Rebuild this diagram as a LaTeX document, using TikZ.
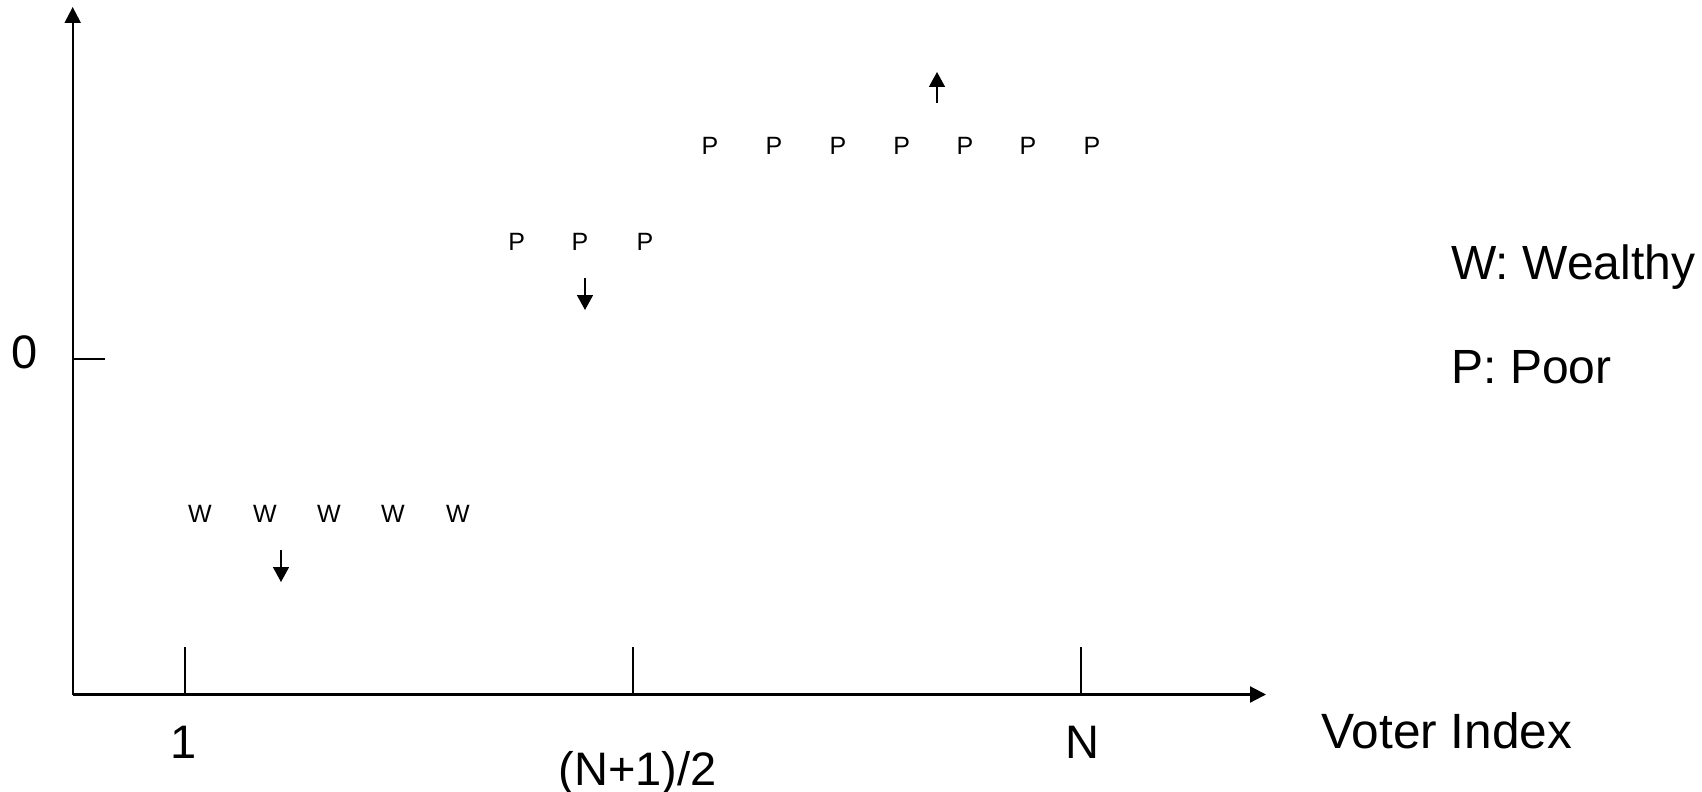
\documentclass[tikz,border=0pt]{standalone}
\usepackage{fontspec}
\setmainfont{Liberation Sans}
\usetikzlibrary{arrows.meta}
\begin{document}
\begin{tikzpicture}[x=0.5pt,y=-0.5pt,
  axis/.style={line width=1.1pt,-{Triangle[length=8pt,width=8pt]}},
  tickline/.style={line width=1pt},
  moveline/.style={line width=0.75pt,-{Triangle[length=7.5pt,width=8pt]}},
  biglabel/.style={font=\fontsize{23.5pt}{28pt}\selectfont,inner sep=0pt},
  legendtext/.style={font=\fontsize{24pt}{28pt}\selectfont,inner sep=0pt,anchor=base west},
  voter/.style={font=\fontsize{12.5pt}{15pt}\selectfont,inner sep=0pt,anchor=base}]
\useasboundingbox (0,0) rectangle (1702,792);

% axes
\coordinate (O) at (72.7,694.5);
\coordinate (ytop) at (72.7,7);
\coordinate (xend) at (1266,694.5);
\draw[axis] (O) -- (ytop);
\draw[axis] (O) -- (xend);

% ticks
\coordinate (t1) at (184.5,694.5);   \coordinate (t1a) at (184.5,647);
\coordinate (tm) at (633,694.5);     \coordinate (tma) at (633,647);
\coordinate (tN) at (1081,694.5);    \coordinate (tNa) at (1081,647);
\coordinate (z0) at (72.7,359);      \coordinate (z0a) at (105,359);
\draw[tickline] (t1) -- (t1a);
\draw[tickline] (tm) -- (tma);
\draw[tickline] (tN) -- (tNa);
\draw[tickline] (z0) -- (z0a);

% axis labels
\node[biglabel,anchor=base] (lzero) at (25,368) {0};
\node[biglabel,anchor=base] (lone) at (184,758) {1};
\node[biglabel,anchor=base] (lmid) at (637.5,785) {(N+1)/2};
\node[biglabel,anchor=base] (lN) at (1082,758) {N};
\node[legendtext,font=\fontsize{24.8pt}{29pt}\selectfont] (lvoter) at (1321,748) {Voter Index};

% legend
\node[legendtext] (legW) at (1451,279) {W: Wealthy};
\node[legendtext] (legP) at (1451,383) {P: Poor};

% wealthy voters
\foreach \x [count=\i] in {200,265,329,393,458}
  \node[voter] (w\i) at (\x,522) {W};

% poor voters, lower group
\foreach \x [count=\i] in {516.7,580,645}
  \node[voter] (p\i) at (\x,250.7) {P};

% poor voters, upper group
\foreach \x [count=\i] in {710,774,838,901.7,965,1028,1092}
  \node[voter] (q\i) at (\x,154.3) {P};

% movement arrows
\coordinate (aw1) at (281,550);  \coordinate (aw2) at (281,582);
\coordinate (ap1) at (585,278);  \coordinate (ap2) at (585,310);
\coordinate (aq1) at (937,103);  \coordinate (aq2) at (937,72);
\draw[moveline] (aw1) -- (aw2);
\draw[moveline] (ap1) -- (ap2);
\draw[moveline] (aq1) -- (aq2);
\end{tikzpicture}
\end{document}
